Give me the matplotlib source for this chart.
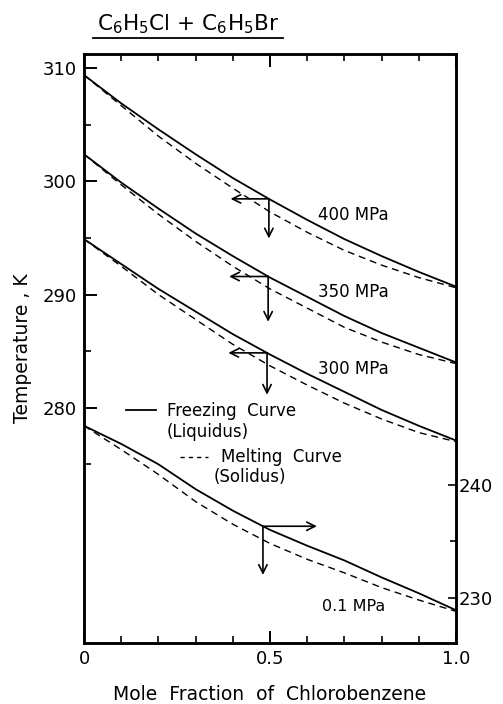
import matplotlib
matplotlib.use("Agg")
import matplotlib.pyplot as plt
from matplotlib.lines import Line2D
import numpy as np

# mole fraction of chlorobenzene
x = [0.0, 0.1, 0.2, 0.3, 0.4, 0.5, 0.6, 0.7, 0.8, 0.9, 1.0]

# left axis (K): freezing (liquidus) and melting (solidus) curves
liq_400 = [309.4, 306.9, 304.6, 302.4, 300.3, 298.4, 296.6, 294.9, 293.4, 292.0, 290.7]
sol_400 = [309.4, 306.7, 304.0, 301.6, 299.4, 297.3, 295.5, 293.9, 292.6, 291.5, 290.6]
liq_350 = [302.4, 299.9, 297.6, 295.4, 293.4, 291.5, 289.8, 288.1, 286.6, 285.3, 284.0]
sol_350 = [302.4, 299.7, 297.1, 294.7, 292.5, 290.5, 288.8, 287.1, 285.8, 284.7, 283.9]
liq_300 = [294.9, 292.7, 290.5, 288.5, 286.5, 284.7, 283.0, 281.4, 279.8, 278.4, 277.1]
sol_300 = [294.9, 292.5, 290.0, 287.8, 285.6, 283.7, 282.0, 280.4, 279.0, 277.8, 277.0]

# right axis (K): 0.1 MPa
liq_01 = [245.2, 243.6, 241.8, 239.6, 237.7, 236.0, 234.6, 233.3, 231.8, 230.4, 228.9]
sol_01 = [245.2, 243.1, 240.9, 238.5, 236.5, 234.8, 233.4, 232.2, 230.9, 229.8, 228.8]

pressures = ["400 MPa", "350 MPa", "300 MPa"]
label_T = [297.0, 290.2, 283.4]
arrow_x = [0.497, 0.495, 0.492]
arrow_left_to = [0.394, 0.390, 0.388]
arrow_drop = [3.5, 4.0, 3.7]

fig = plt.figure(figsize=(5.03, 7.04), dpi=100)
ax = fig.add_axes([0.167, 0.0866, 0.7396, 0.8367])
ax2 = ax.twinx()

left_lim = (259.2, 311.26)
offset = 33.2
ax.set_xlim(0, 1)
ax.set_ylim(*left_lim)
ax2.set_ylim(left_lim[0] - offset, left_lim[1] - offset)

lw = 1.3
dash = (0, (5, 3.5))
for liq, sol in [(liq_400, sol_400), (liq_350, sol_350), (liq_300, sol_300)]:
    ax.plot(x, liq, color="black", lw=lw)
    ax.plot(x, sol, color="black", lw=1.0, linestyle=dash)
ax2.plot(x, liq_01, color="black", lw=lw)
ax2.plot(x, sol_01, color="black", lw=1.0, linestyle=dash)

aprops = dict(arrowstyle="->", color="black", lw=1.2, shrinkA=0, shrinkB=0,
              mutation_scale=15)
curves = [liq_400, liq_350, liq_300]
for liq, xa, xl, dr, lab, ty in zip(curves, arrow_x, arrow_left_to, arrow_drop,
                                    pressures, label_T):
    ya = np.interp(xa, x, liq)
    ax.annotate("", xy=(xl, ya), xytext=(xa, ya), arrowprops=aprops)
    ax.annotate("", xy=(xa, ya - dr), xytext=(xa, ya), arrowprops=aprops)
    ax.text(0.63, ty, lab, fontsize=12, ha="left", va="center")

# 0.1 MPa arrows point to the right-hand scale
xa01 = 0.481
ya01 = np.interp(xa01, x, liq_01)
ax2.annotate("", xy=(0.626, ya01), xytext=(xa01, ya01), arrowprops=aprops)
ax2.annotate("", xy=(xa01, ya01 - 4.3), xytext=(xa01, ya01), arrowprops=aprops)
ax2.text(0.64, 229.2, "0.1 MPa", fontsize=11.5, ha="left", va="center")

# legend drawn by hand
ax.plot([0.113, 0.194], [279.8, 279.8], color="black", lw=lw)
ax.text(0.222, 279.75, "Freezing  Curve", fontsize=12, va="center")
ax.text(0.222, 277.85, "(Liquidus)", fontsize=12, va="center")
ax.plot([0.258, 0.333], [275.6, 275.6], color="black", lw=1.0, linestyle=(0, (3, 3)))
ax.text(0.368, 275.6, "Melting  Curve", fontsize=12, va="center")
ax.text(0.348, 273.9, "(Solidus)", fontsize=12, va="center")

# ticks
ax.set_xticks([0, 0.5, 1.0])
ax.set_xticklabels(["0", "0.5", "1.0"])
ax.set_xticks(np.arange(0, 1.01, 0.1), minor=True)
ax.set_yticks([280, 290, 300, 310])
ax.set_yticks([275, 285, 295, 305], minor=True)
ax.tick_params(axis="both", which="major", direction="in", length=9, width=1.4,
               labelsize=13, top=True, pad=5)
ax.tick_params(axis="both", which="minor", direction="in", length=5, width=1.2, top=True)
ax.tick_params(axis="y", right=False, which="both")
ax2.set_yticks([230, 240])
ax2.set_yticks([235], minor=True)
ax2.tick_params(axis="y", which="major", direction="in", length=6, width=1.2,
                labelsize=13, pad=2)
ax2.tick_params(axis="y", which="minor", direction="in", length=4, width=1.2)
for a in (ax, ax2):
    for s in a.spines.values():
        s.set_linewidth(1.8)

ax.set_xlabel("Mole  Fraction  of  Chlorobenzene", fontsize=13.5, labelpad=12)
ax.set_ylabel("Temperature , K", fontsize=13.5, labelpad=8)

fig.text(0.3748, 0.966, r"C$_6$H$_5$Cl + C$_6$H$_5$Br", fontsize=15.5,
         ha="center", va="center")
fig.add_artist(Line2D([93 / 503, 283 / 503], [1 - 38.3 / 704] * 2,
                      color="black", lw=1.3))

fig.savefig("out.png", dpi=100)
